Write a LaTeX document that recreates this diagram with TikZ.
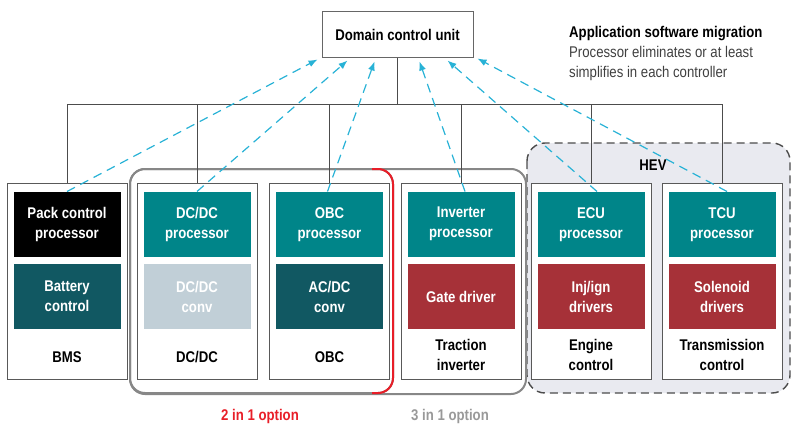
\documentclass[tikz,border=0pt]{standalone}
\usepackage{fontspec}
\setmainfont{Liberation Sans}[FakeStretch=0.85]
\usetikzlibrary{positioning, arrows.meta}
\definecolor{chipteal}{RGB}{0,133,137}
\definecolor{darkteal}{RGB}{17,88,98}
\definecolor{palechip}{RGB}{193,207,215}
\definecolor{chipred}{RGB}{166,49,56}
\definecolor{swcyan}{RGB}{40,178,214}
\definecolor{hevfill}{RGB}{233,234,240}
\definecolor{optred}{RGB}{232,30,40}
\definecolor{optgray}{RGB}{135,135,135}
\tikzstyle{module} = [rectangle, draw=black!65, line width=1pt, fill=white, minimum width=120pt, minimum height=196pt]
\tikzstyle{chip} = [rectangle, minimum width=107pt, minimum height=65pt, text=white, align=center, font=\bfseries\fontsize{15.5}{20}\selectfont]
\tikzstyle{modlabel} = [align=center, font=\bfseries\fontsize{15.5}{20}\selectfont]
\tikzstyle{bus} = [draw=black!70, line width=0.9pt]
\tikzstyle{migrate} = [swcyan, line width=1.2pt, dash pattern=on 9pt off 6pt, -{Latex[length=9pt,width=7pt]}]

\begin{document}
\begin{tikzpicture}[x=1pt, y=-1pt]
        \useasboundingbox (0,0) rectangle (800,436);

        % option frames and HEV group
        \draw [black!70, line width=1.4pt, dash pattern=on 8pt off 5pt, fill=hevfill, rounded corners=18pt] (527,143) rectangle (790,393);
        \draw [optgray, line width=2pt, rounded corners=15pt] (130,169) rectangle (526,394);
        \draw [optgray, line width=2pt, rounded corners=15pt] (130,169) rectangle (393,393);
        \draw [optred, line width=2pt, rounded corners=15pt] (372,169) -- (393,169) -- (393,393) -- (372,393);
        \node (hev) at (653,165) [modlabel] {HEV};

        \node (dcu) at (397.5,35) [rectangle, draw=black!60, line width=1pt, minimum width=151pt, minimum height=46pt, modlabel] {Domain control unit};
        \node (note) at (569,26) [anchor=north west, inner sep=0pt, align=left, text=black!75, font=\fontsize{15.5}{20}\selectfont] {\textbf{\color{black}Application software migration}\\Processor eliminates or at least\\simplifies in each controller};

        % controllers
        \node (bms) [module] at (67,281) {};
        \node (dcdc) [module] at (197,281) {};
        \node (obc) [module] at (329.5,281) {};
        \node (trac) [module] at (461,281) {};
        \node (eng) [module] at (591,281) {};
        \node (trans) [module] at (722,281) {};

        \node (pcp) [chip, fill=black, below=9pt of bms.north] {Pack control\\processor};
        \node (batt) [chip, fill=darkteal, below=7pt of pcp] {Battery\\control};
        \node (dcp) [chip, fill=chipteal, below=9pt of dcdc.north] {DC/DC\\processor};
        \node (dcconv) [chip, fill=palechip, below=7pt of dcp] {DC/DC\\conv};
        \node (obcp) [chip, fill=chipteal, below=9pt of obc.north] {OBC\\processor};
        \node (acdc) [chip, fill=darkteal, below=7pt of obcp] {AC/DC\\conv};
        \node (invp) [chip, fill=chipteal, below=9pt of trac.north] {Inverter\\processor};
        \node (gate) [chip, fill=chipred, below=7pt of invp] {Gate driver};
        \node (ecu) [chip, fill=chipteal, below=9pt of eng.north] {ECU\\processor};
        \node (inj) [chip, fill=chipred, below=7pt of ecu] {Inj/ign\\drivers};
        \node (tcu) [chip, fill=chipteal, below=9pt of trans.north] {TCU\\processor};
        \node (sol) [chip, fill=chipred, below=7pt of tcu] {Solenoid\\drivers};

        \node (bmstxt) [modlabel] at ([yshift=-28pt]batt.south) {BMS};
        \node (dcdctxt) [modlabel] at ([yshift=-28pt]dcconv.south) {DC/DC};
        \node (obctxt) [modlabel] at ([yshift=-28pt]acdc.south) {OBC};
        \node (tractxt) [modlabel] at ([yshift=-26pt]gate.south) {Traction\\inverter};
        \node (engtxt) [modlabel] at ([yshift=-26pt]inj.south) {Engine\\control};
        \node (transtxt) [modlabel] at ([yshift=-26pt]sol.south) {Transmission\\control};

        \node (opt2) at (260,416) [modlabel, text=optred] {2 in 1 option};
        \node (opt3) at (450,416) [modlabel, text=black!40] {3 in 1 option};

        % bus
        \coordinate (bus) at (0,104);
        \draw [bus] (dcu.south) -- (dcu.south |- bus);
        \draw [bus] (bms.north) -- (bms.north |- bus) -- (trans.north |- bus) -- (trans.north);
        \draw [bus] (dcdc.north) -- (dcdc.north |- bus);
        \draw [bus] (obc.north) -- (obc.north |- bus);
        \draw [bus] (trac.north) -- (trac.north |- bus);
        \draw [bus] (eng.north) -- (eng.north |- bus);

        % software migration
        \draw [migrate] (pcp.north) -- ([xshift=-80pt, yshift=-1pt]dcu.south);
        \draw [migrate] (dcp.north) -- ([xshift=-50pt, yshift=-2pt]dcu.south);
        \draw [migrate] ([xshift=-2pt]obcp.north) -- ([xshift=-23pt, yshift=-3pt]dcu.south);
        \draw [migrate] ([xshift=4pt]invp.north) -- ([xshift=22pt, yshift=-3pt]dcu.south);
        \draw [migrate] ([xshift=6pt]ecu.north) -- ([xshift=50pt, yshift=-2pt]dcu.south);
        \draw [migrate] ([xshift=5pt]tcu.north) -- ([xshift=80pt]dcu.south);
\end{tikzpicture}
\end{document}
